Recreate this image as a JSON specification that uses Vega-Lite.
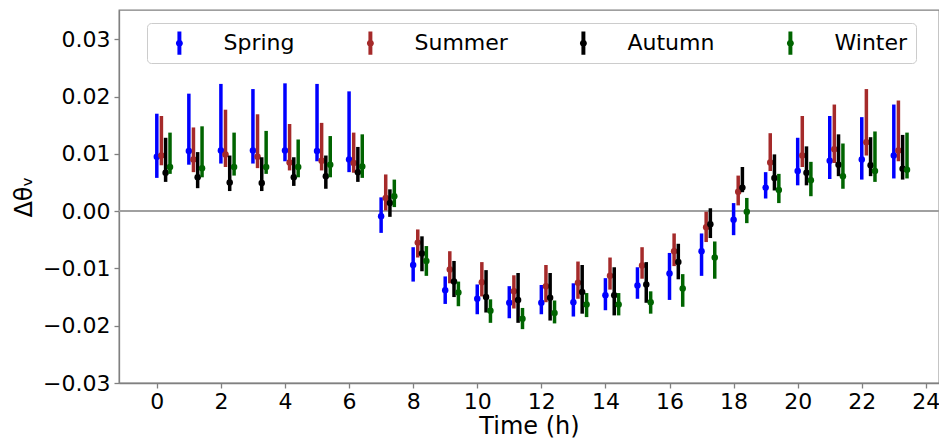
{
  "$schema": "https://vega.github.io/schema/vega-lite/v6.json",
  "width": 820,
  "height": 373,
  "autosize": {"type": "none"},
  "padding": {"left": 119, "top": 10, "right": 0, "bottom": 59},
  "background": "white",
  "config": {
    "font": "DejaVu Sans",
    "view": {"stroke": "#808080", "strokeWidth": 1.3},
    "axis": {
      "labelFont": "DejaVu Sans",
      "labelFontSize": 22,
      "labelColor": "#000000",
      "titleFont": "DejaVu Sans",
      "titleFontSize": 24,
      "titleFontWeight": "normal",
      "titleColor": "#000000",
      "domainColor": "#808080",
      "domainWidth": 1.3,
      "tickColor": "#808080",
      "tickWidth": 1.3,
      "tickSize": 5,
      "labelPadding": 3,
      "labelFlush": false,
      "labelOverlap": false,
      "grid": false
    },
    "axisX": {"titlePadding": 2},
    "axisY": {"titlePadding": 6, "labelPadding": 4}
  },
  "data": {
    "values": [
      {"h": 0, "season": "Spring", "mean": 0.0095, "lo": 0.0058, "hi": 0.0170},
      {"h": 1, "season": "Spring", "mean": 0.0105, "lo": 0.0081, "hi": 0.0205},
      {"h": 2, "season": "Spring", "mean": 0.0106, "lo": 0.0083, "hi": 0.0222},
      {"h": 3, "season": "Spring", "mean": 0.0106, "lo": 0.0083, "hi": 0.0213},
      {"h": 4, "season": "Spring", "mean": 0.0106, "lo": 0.0087, "hi": 0.0223},
      {"h": 5, "season": "Spring", "mean": 0.0105, "lo": 0.0087, "hi": 0.0222},
      {"h": 6, "season": "Spring", "mean": 0.0090, "lo": 0.0068, "hi": 0.0209},
      {"h": 7, "season": "Spring", "mean": -0.0009, "lo": -0.0038, "hi": 0.0024},
      {"h": 8, "season": "Spring", "mean": -0.0094, "lo": -0.0123, "hi": -0.0063},
      {"h": 9, "season": "Spring", "mean": -0.0138, "lo": -0.0162, "hi": -0.0114},
      {"h": 10, "season": "Spring", "mean": -0.0153, "lo": -0.0180, "hi": -0.0128},
      {"h": 11, "season": "Spring", "mean": -0.0160, "lo": -0.0187, "hi": -0.0131},
      {"h": 12, "season": "Spring", "mean": -0.0160, "lo": -0.0180, "hi": -0.0129},
      {"h": 13, "season": "Spring", "mean": -0.0159, "lo": -0.0184, "hi": -0.0126},
      {"h": 14, "season": "Spring", "mean": -0.0147, "lo": -0.0173, "hi": -0.0117},
      {"h": 15, "season": "Spring", "mean": -0.0130, "lo": -0.0153, "hi": -0.0098},
      {"h": 16, "season": "Spring", "mean": -0.0109, "lo": -0.0155, "hi": -0.0073},
      {"h": 17, "season": "Spring", "mean": -0.0070, "lo": -0.0113, "hi": -0.0039},
      {"h": 18, "season": "Spring", "mean": -0.0015, "lo": -0.0042, "hi": 0.0014},
      {"h": 19, "season": "Spring", "mean": 0.0041, "lo": 0.0022, "hi": 0.0068},
      {"h": 20, "season": "Spring", "mean": 0.0070, "lo": 0.0045, "hi": 0.0128},
      {"h": 21, "season": "Spring", "mean": 0.0088, "lo": 0.0056, "hi": 0.0166},
      {"h": 22, "season": "Spring", "mean": 0.0090, "lo": 0.0055, "hi": 0.0164},
      {"h": 23, "season": "Spring", "mean": 0.0097, "lo": 0.0057, "hi": 0.0186},

      {"h": 0, "season": "Summer", "mean": 0.0097, "lo": 0.0080, "hi": 0.0166},
      {"h": 1, "season": "Summer", "mean": 0.0090, "lo": 0.0068, "hi": 0.0146},
      {"h": 2, "season": "Summer", "mean": 0.0099, "lo": 0.0077, "hi": 0.0177},
      {"h": 3, "season": "Summer", "mean": 0.0095, "lo": 0.0075, "hi": 0.0169},
      {"h": 4, "season": "Summer", "mean": 0.0085, "lo": 0.0071, "hi": 0.0152},
      {"h": 5, "season": "Summer", "mean": 0.0088, "lo": 0.0071, "hi": 0.0154},
      {"h": 6, "season": "Summer", "mean": 0.0084, "lo": 0.0067, "hi": 0.0137},
      {"h": 7, "season": "Summer", "mean": 0.0023, "lo": 0.0001, "hi": 0.0064},
      {"h": 8, "season": "Summer", "mean": -0.0055, "lo": -0.0081, "hi": -0.0032},
      {"h": 9, "season": "Summer", "mean": -0.0102, "lo": -0.0126, "hi": -0.0070},
      {"h": 10, "season": "Summer", "mean": -0.0124, "lo": -0.0149, "hi": -0.0089},
      {"h": 11, "season": "Summer", "mean": -0.0140, "lo": -0.0170, "hi": -0.0112},
      {"h": 12, "season": "Summer", "mean": -0.0131, "lo": -0.0159, "hi": -0.0094},
      {"h": 13, "season": "Summer", "mean": -0.0125, "lo": -0.0153, "hi": -0.0088},
      {"h": 14, "season": "Summer", "mean": -0.0113, "lo": -0.0137, "hi": -0.0081},
      {"h": 15, "season": "Summer", "mean": -0.0095, "lo": -0.0118, "hi": -0.0063},
      {"h": 16, "season": "Summer", "mean": -0.0070, "lo": -0.0096, "hi": -0.0039},
      {"h": 17, "season": "Summer", "mean": -0.0028, "lo": -0.0054, "hi": -0.0001},
      {"h": 18, "season": "Summer", "mean": 0.0034, "lo": 0.0010, "hi": 0.0062},
      {"h": 19, "season": "Summer", "mean": 0.0085, "lo": 0.0070, "hi": 0.0136},
      {"h": 20, "season": "Summer", "mean": 0.0097, "lo": 0.0077, "hi": 0.0166},
      {"h": 21, "season": "Summer", "mean": 0.0108, "lo": 0.0084, "hi": 0.0186},
      {"h": 22, "season": "Summer", "mean": 0.0120, "lo": 0.0097, "hi": 0.0213},
      {"h": 23, "season": "Summer", "mean": 0.0106, "lo": 0.0087, "hi": 0.0193},

      {"h": 0, "season": "Autumn", "mean": 0.0067, "lo": 0.0051, "hi": 0.0128},
      {"h": 1, "season": "Autumn", "mean": 0.0059, "lo": 0.0040, "hi": 0.0103},
      {"h": 2, "season": "Autumn", "mean": 0.0050, "lo": 0.0035, "hi": 0.0097},
      {"h": 3, "season": "Autumn", "mean": 0.0049, "lo": 0.0035, "hi": 0.0094},
      {"h": 4, "season": "Autumn", "mean": 0.0059, "lo": 0.0044, "hi": 0.0094},
      {"h": 5, "season": "Autumn", "mean": 0.0061, "lo": 0.0039, "hi": 0.0097},
      {"h": 6, "season": "Autumn", "mean": 0.0068, "lo": 0.0051, "hi": 0.0112},
      {"h": 7, "season": "Autumn", "mean": 0.0014, "lo": -0.0010, "hi": 0.0038},
      {"h": 8, "season": "Autumn", "mean": -0.0074, "lo": -0.0105, "hi": -0.0044},
      {"h": 9, "season": "Autumn", "mean": -0.0123, "lo": -0.0150, "hi": -0.0087},
      {"h": 10, "season": "Autumn", "mean": -0.0150, "lo": -0.0177, "hi": -0.0103},
      {"h": 11, "season": "Autumn", "mean": -0.0155, "lo": -0.0195, "hi": -0.0108},
      {"h": 12, "season": "Autumn", "mean": -0.0151, "lo": -0.0191, "hi": -0.0108},
      {"h": 13, "season": "Autumn", "mean": -0.0141, "lo": -0.0179, "hi": -0.0094},
      {"h": 14, "season": "Autumn", "mean": -0.0147, "lo": -0.0182, "hi": -0.0098},
      {"h": 15, "season": "Autumn", "mean": -0.0128, "lo": -0.0160, "hi": -0.0089},
      {"h": 16, "season": "Autumn", "mean": -0.0089, "lo": -0.0119, "hi": -0.0057},
      {"h": 17, "season": "Autumn", "mean": -0.0023, "lo": -0.0047, "hi": 0.0005},
      {"h": 18, "season": "Autumn", "mean": 0.0041, "lo": 0.0033, "hi": 0.0077},
      {"h": 19, "season": "Autumn", "mean": 0.0058, "lo": 0.0036, "hi": 0.0099},
      {"h": 20, "season": "Autumn", "mean": 0.0067, "lo": 0.0045, "hi": 0.0113},
      {"h": 21, "season": "Autumn", "mean": 0.0081, "lo": 0.0061, "hi": 0.0134},
      {"h": 22, "season": "Autumn", "mean": 0.0080, "lo": 0.0061, "hi": 0.0129},
      {"h": 23, "season": "Autumn", "mean": 0.0074, "lo": 0.0055, "hi": 0.0133},

      {"h": 0, "season": "Winter", "mean": 0.0077, "lo": 0.0065, "hi": 0.0137},
      {"h": 1, "season": "Winter", "mean": 0.0075, "lo": 0.0059, "hi": 0.0148},
      {"h": 2, "season": "Winter", "mean": 0.0077, "lo": 0.0062, "hi": 0.0137},
      {"h": 3, "season": "Winter", "mean": 0.0077, "lo": 0.0065, "hi": 0.0140},
      {"h": 4, "season": "Winter", "mean": 0.0077, "lo": 0.0059, "hi": 0.0125},
      {"h": 5, "season": "Winter", "mean": 0.0081, "lo": 0.0059, "hi": 0.0131},
      {"h": 6, "season": "Winter", "mean": 0.0078, "lo": 0.0058, "hi": 0.0134},
      {"h": 7, "season": "Winter", "mean": 0.0026, "lo": 0.0007, "hi": 0.0055},
      {"h": 8, "season": "Winter", "mean": -0.0087, "lo": -0.0113, "hi": -0.0061},
      {"h": 9, "season": "Winter", "mean": -0.0142, "lo": -0.0166, "hi": -0.0123},
      {"h": 10, "season": "Winter", "mean": -0.0174, "lo": -0.0195, "hi": -0.0154},
      {"h": 11, "season": "Winter", "mean": -0.0188, "lo": -0.0206, "hi": -0.0169},
      {"h": 12, "season": "Winter", "mean": -0.0178, "lo": -0.0196, "hi": -0.0156},
      {"h": 13, "season": "Winter", "mean": -0.0163, "lo": -0.0185, "hi": -0.0143},
      {"h": 14, "season": "Winter", "mean": -0.0163, "lo": -0.0182, "hi": -0.0143},
      {"h": 15, "season": "Winter", "mean": -0.0159, "lo": -0.0179, "hi": -0.0140},
      {"h": 16, "season": "Winter", "mean": -0.0135, "lo": -0.0167, "hi": -0.0110},
      {"h": 17, "season": "Winter", "mean": -0.0081, "lo": -0.0118, "hi": -0.0053},
      {"h": 18, "season": "Winter", "mean": -0.0001, "lo": -0.0021, "hi": 0.0023},
      {"h": 19, "season": "Winter", "mean": 0.0037, "lo": 0.0014, "hi": 0.0065},
      {"h": 20, "season": "Winter", "mean": 0.0054, "lo": 0.0026, "hi": 0.0086},
      {"h": 21, "season": "Winter", "mean": 0.0061, "lo": 0.0039, "hi": 0.0118},
      {"h": 22, "season": "Winter", "mean": 0.0070, "lo": 0.0051, "hi": 0.0139},
      {"h": 23, "season": "Winter", "mean": 0.0072, "lo": 0.0057, "hi": 0.0137}
    ]
  },
  "layer": [
    {
      "data": {"values": [{"ref": 0}]},
      "mark": {"type": "rule", "color": "#a0a0a0", "strokeWidth": 2},
      "encoding": {
        "y": {
          "field": "ref", "type": "quantitative",
          "scale": {"domain": [-0.03, 0.0351], "nice": false, "zero": false},
          "axis": {"title": "Δθᵥ", "values": [-0.03, -0.02, -0.01, 0, 0.01, 0.02, 0.03], "format": ".2f"}
        }
      }
    },
    {
      "encoding": {
        "x": {
          "field": "h", "type": "quantitative",
          "scale": {"domain": [-1.18, 24.41], "nice": false, "zero": false},
          "axis": {"title": "Time (h)", "values": [0, 2, 4, 6, 8, 10, 12, 14, 16, 18, 20, 22, 24], "format": "d"}
        },
        "color": {
          "field": "season", "type": "nominal",
          "scale": {"domain": ["Spring", "Summer", "Autumn", "Winter"], "range": ["#0000ff", "#a52a2a", "#000000", "#006400"]},
          "legend": {
            "title": null,
            "orient": "none",
            "legendX": 28,
            "legendY": 13,
            "direction": "horizontal",
            "columns": 4,
            "symbolType": "M-0.17,-1H0.17V1H-0.17Z M0.3,0A0.3,0.3 0 1 1 -0.3,0A0.3,0.3 0 1 1 0.3,0Z",
            "symbolSize": 540,
            "symbolStrokeWidth": 0,
            "symbolOffset": 12.4,
            "labelOffset": 32.1,
            "columnPadding": 51,
            "padding": 8,
            "strokeColor": "#cccccc",
            "fillColor": "rgba(255,255,255,0.8)",
            "cornerRadius": 4,
            "labelFont": "DejaVu Sans",
            "labelFontSize": 22,
            "labelColor": "#000000",
            "labelBaseline": "middle",
            "encode": {
              "symbols": {
                "update": {
                  "fill": {"scale": "color", "field": "value"},
                  "fillOpacity": {"value": 1},
                  "opacity": {"value": 1},
                  "strokeWidth": {"value": 0}
                }
              }
            }
          }
        }
      },
      "layer": [
        {
          "transform": [{"filter": "datum.season === 'Spring'"}],
          "layer": [
            {
              "mark": {"type": "rule", "strokeWidth": 3.5, "xOffset": 0},
              "encoding": {
                "y": {"field": "lo", "type": "quantitative", "scale": {"domain": [-0.03, 0.0351], "nice": false, "zero": false}, "axis": {"title": "Δθᵥ"}},
                "y2": {"field": "hi"}
              }
            },
            {
              "mark": {"type": "point", "filled": true, "opacity": 1, "size": 42, "xOffset": 0},
              "encoding": {
                "y": {"field": "mean", "type": "quantitative", "scale": {"domain": [-0.03, 0.0351], "nice": false, "zero": false}, "axis": {"title": "Δθᵥ"}}
              }
            }
          ]
        },
        {
          "transform": [{"filter": "datum.season === 'Summer'"}],
          "layer": [
            {
              "mark": {"type": "rule", "strokeWidth": 3.5, "xOffset": 4.6},
              "encoding": {
                "y": {"field": "lo", "type": "quantitative", "scale": {"domain": [-0.03, 0.0351], "nice": false, "zero": false}, "axis": {"title": "Δθᵥ"}},
                "y2": {"field": "hi"}
              }
            },
            {
              "mark": {"type": "point", "filled": true, "opacity": 1, "size": 42, "xOffset": 4.6},
              "encoding": {
                "y": {"field": "mean", "type": "quantitative", "scale": {"domain": [-0.03, 0.0351], "nice": false, "zero": false}, "axis": {"title": "Δθᵥ"}}
              }
            }
          ]
        },
        {
          "transform": [{"filter": "datum.season === 'Autumn'"}],
          "layer": [
            {
              "mark": {"type": "rule", "strokeWidth": 3.5, "xOffset": 8.8},
              "encoding": {
                "y": {"field": "lo", "type": "quantitative", "scale": {"domain": [-0.03, 0.0351], "nice": false, "zero": false}, "axis": {"title": "Δθᵥ"}},
                "y2": {"field": "hi"}
              }
            },
            {
              "mark": {"type": "point", "filled": true, "opacity": 1, "size": 42, "xOffset": 8.8},
              "encoding": {
                "y": {"field": "mean", "type": "quantitative", "scale": {"domain": [-0.03, 0.0351], "nice": false, "zero": false}, "axis": {"title": "Δθᵥ"}}
              }
            }
          ]
        },
        {
          "transform": [{"filter": "datum.season === 'Winter'"}],
          "layer": [
            {
              "mark": {"type": "rule", "strokeWidth": 3.5, "xOffset": 13.2},
              "encoding": {
                "y": {"field": "lo", "type": "quantitative", "scale": {"domain": [-0.03, 0.0351], "nice": false, "zero": false}, "axis": {"title": "Δθᵥ"}},
                "y2": {"field": "hi"}
              }
            },
            {
              "mark": {"type": "point", "filled": true, "opacity": 1, "size": 42, "xOffset": 13.2},
              "encoding": {
                "y": {"field": "mean", "type": "quantitative", "scale": {"domain": [-0.03, 0.0351], "nice": false, "zero": false}, "axis": {"title": "Δθᵥ"}}
              }
            }
          ]
        }
      ]
    }
  ]
}
